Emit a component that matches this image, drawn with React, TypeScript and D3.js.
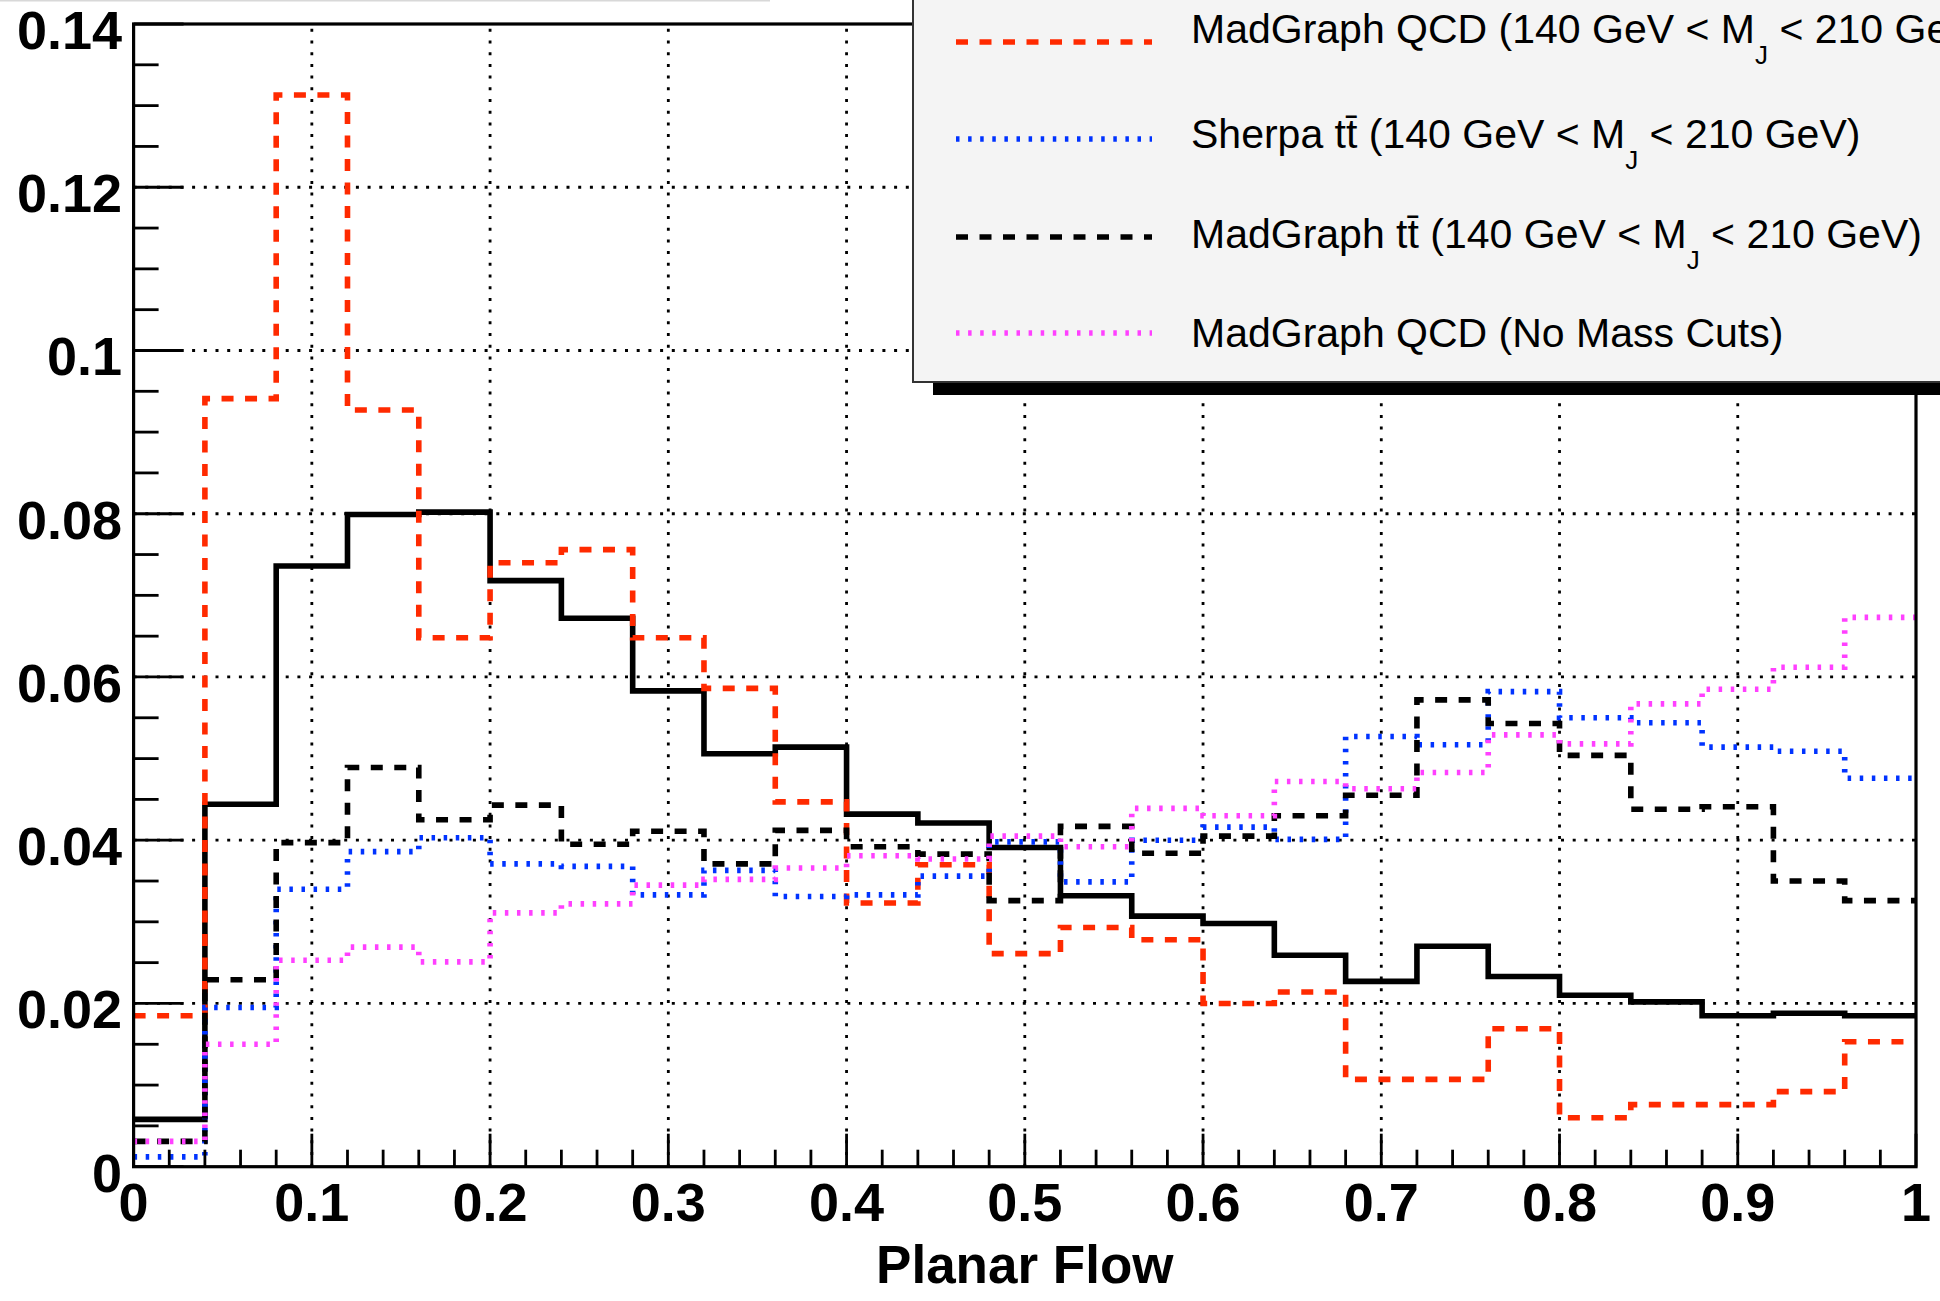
import React from "react";
import * as d3 from "d3";

// ---------- data ----------
const binLow = 0;
const binHigh = 1;
const nBins = 25;

// solid black histogram (legend entry cut off above the picture)
const solidBlackValues = [0.0058, 0.0444, 0.0736, 0.0799, 0.0802, 0.0718, 0.0672, 0.0583, 0.0506, 0.0514, 0.0432, 0.0421, 0.0391, 0.0332, 0.0307, 0.0298, 0.0259, 0.0227, 0.0270, 0.0233, 0.0210, 0.0202, 0.0185, 0.0188, 0.0185];
const madgraphQCDMassValues = [0.0185, 0.0941, 0.1313, 0.0927, 0.0648, 0.0740, 0.0756, 0.0648, 0.0586, 0.0447, 0.0323, 0.0370, 0.0261, 0.0293, 0.0278, 0.0200, 0.0214, 0.0107, 0.0107, 0.0169, 0.0060, 0.0076, 0.0076, 0.0092, 0.0153];
const sherpaTTValues = [0.0012, 0.0195, 0.0340, 0.0386, 0.0403, 0.0371, 0.0368, 0.0333, 0.0363, 0.0331, 0.0333, 0.0356, 0.0398, 0.0349, 0.0400, 0.0416, 0.0401, 0.0527, 0.0517, 0.0582, 0.0550, 0.0544, 0.0514, 0.0509, 0.0476];
const madgraphTTValues = [0.0031, 0.0229, 0.0397, 0.0489, 0.0425, 0.0443, 0.0395, 0.0411, 0.0371, 0.0412, 0.0392, 0.0383, 0.0326, 0.0417, 0.0384, 0.0405, 0.0430, 0.0455, 0.0572, 0.0543, 0.0504, 0.0438, 0.0441, 0.0350, 0.0326];
const madgraphQCDNoCutValues = [0.0031, 0.0150, 0.0253, 0.0269, 0.0251, 0.0311, 0.0322, 0.0345, 0.0352, 0.0366, 0.0381, 0.0377, 0.0405, 0.0392, 0.0439, 0.0430, 0.0472, 0.0463, 0.0483, 0.0529, 0.0518, 0.0567, 0.0585, 0.0612, 0.0673];

const xTickLabels = ["0", "0.1", "0.2", "0.3", "0.4", "0.5", "0.6", "0.7", "0.8", "0.9", "1"];
const yTickLabels = ["0", "0.02", "0.04", "0.06", "0.08", "0.1", "0.12", "0.14"];
const xTitle = "Planar Flow";

type Entry = { pre: string; bar?: boolean; mid?: string; sub?: string; post?: string; color: string; dash: string };
const legendEntries: Entry[] = [
  { pre: "MadGraph QCD (140 GeV < M", sub: "J", post: " < 210 GeV)", color: "#ff2a00", dash: "12 11.5" },
  { pre: "Sherpa t", bar: true, mid: " (140 GeV < M", sub: "J", post: " < 210 GeV)", color: "#0033ff", dash: "3.5 8.6" },
  { pre: "MadGraph t", bar: true, mid: " (140 GeV < M", sub: "J", post: " < 210 GeV)", color: "#000000", dash: "12 11.5" },
  { pre: "MadGraph QCD (No Mass Cuts)", color: "#ff40ff", dash: "3.5 8.6" },
];

// ---------- layout ----------
const W = 1940;
const H = 1301;
const left = 133.6;
const right = 1916;
const top = 24;
const bottom = 1166.7;
const FONT = "'Liberation Sans', Arial, Helvetica, sans-serif";

export default function App() {
  const x = d3.scaleLinear().domain([binLow, binHigh]).range([left, right]);
  const y = d3.scaleLinear().domain([0, 0.14]).range([bottom, top]);
  const binW = (binHigh - binLow) / nBins;

  const stepPath = (vals: number[]) => {
    const pts: [number, number][] = vals.map((v, i) => [binLow + i * binW, v]);
    pts.push([binHigh, vals[vals.length - 1]]);
    return d3
      .line<[number, number]>()
      .x((d) => x(d[0]))
      .y((d) => y(d[1]))
      .curve(d3.curveStepAfter)(pts) as string;
  };

  const series = [
    { vals: solidBlackValues, color: "#000000", dash: "none" },
    { vals: madgraphQCDMassValues, color: legendEntries[0].color, dash: legendEntries[0].dash },
    { vals: sherpaTTValues, color: legendEntries[1].color, dash: legendEntries[1].dash },
    { vals: madgraphTTValues, color: legendEntries[2].color, dash: legendEntries[2].dash },
    { vals: madgraphQCDNoCutValues, color: legendEntries[3].color, dash: legendEntries[3].dash },
  ];

  const xMajor = xTickLabels.map((t) => +t);
  const yMajor = yTickLabels.map((t) => +t);
  const xMinor = d3.range(0, 51).map((i) => i * 0.02).filter((v) => Math.abs(v * 10 - Math.round(v * 10)) > 1e-6 && v <= 1.0001);
  const yMinor = d3.range(0, 29).map((i) => i * 0.005).filter((v) => Math.abs(v * 50 - Math.round(v * 50)) > 1e-6 && v <= 0.1401);

  const gridDash = "3 8.7";

  // legend geometry
  const legLeft = 913;
  const legBottom = 382;
  const lineX0 = 956;
  const lineX1 = 1152;
  const textX = 1191;
  const lineYs = [42, 139, 237, 333];
  const textYs = [43, 148, 248, 347];

  return (
    <svg width={W} height={H} style={{ position: "absolute", left: 0, top: 0, background: "#fff" }} fontFamily={FONT}>
      <rect x={0} y={0} width={W} height={H} fill="#ffffff" />
      <line x1={0} x2={770} y1={0.5} y2={0.5} stroke="#d8d8d8" strokeWidth={2} />

      {/* grid */}
      {xMajor.slice(1, -1).map((v) => (
        <line key={"gx" + v} x1={x(v)} x2={x(v)} y1={bottom} y2={top} stroke="#000" strokeWidth={2.8} strokeDasharray={gridDash} />
      ))}
      {yMajor.slice(1, -1).map((v) => (
        <line key={"gy" + v} x1={left} x2={right} y1={y(v)} y2={y(v)} stroke="#000" strokeWidth={2.8} strokeDasharray={gridDash} />
      ))}

      {/* histograms */}
      {series.map((s, i) => (
        <path key={"s" + i} d={stepPath(s.vals)} fill="none" stroke={s.color} strokeWidth={5.6} strokeDasharray={s.dash} strokeLinecap="butt" strokeLinejoin="miter" />
      ))}

      {/* ticks */}
      {xMajor.map((v) => (
        <line key={"xt" + v} x1={x(v)} x2={x(v)} y1={bottom} y2={bottom - 33} stroke="#000" strokeWidth={2.8} />
      ))}
      {xMinor.map((v) => (
        <line key={"xm" + v} x1={x(v)} x2={x(v)} y1={bottom} y2={bottom - 17} stroke="#000" strokeWidth={2.8} />
      ))}
      {yMajor.map((v) => (
        <line key={"yt" + v} x1={left} x2={left + 50} y1={y(v)} y2={y(v)} stroke="#000" strokeWidth={2.8} />
      ))}
      {yMinor.map((v) => (
        <line key={"ym" + v} x1={left} x2={left + 25} y1={y(v)} y2={y(v)} stroke="#000" strokeWidth={2.8} />
      ))}

      {/* frame */}
      <rect x={left} y={top} width={right - left} height={bottom - top} fill="none" stroke="#000" strokeWidth={3.2} />

      {/* tick labels */}
      {xTickLabels.map((t) => (
        <text key={"xl" + t} x={x(+t)} y={1221} textAnchor="middle" fontSize={54} fontWeight="bold" fill="#000">
          {t}
        </text>
      ))}
      {yTickLabels.map((t) => (
        <text key={"yl" + t} x={122} y={y(+t) + 25} textAnchor="end" fontSize={54} fontWeight="bold" fill="#000">
          {t}
        </text>
      ))}
      <text x={x(0.5)} y={1283} textAnchor="middle" fontSize={53} fontWeight="bold" fill="#000">
        {xTitle}
      </text>

      {/* legend */}
      <rect x={legLeft + 20} y={-20} width={W} height={legBottom + 13 + 20} fill="#000" />
      <rect x={legLeft} y={-20} width={W} height={legBottom + 20} fill="#f4f4f4" stroke="#333" strokeWidth={2} />
      {legendEntries.map((e, i) => (
        <g key={"leg" + i}>
          <line x1={lineX0} x2={lineX1} y1={lineYs[i]} y2={lineYs[i]} stroke={e.color} strokeWidth={5.6} strokeDasharray={e.dash} />
          <text x={textX} y={textYs[i]} fontSize={41} fill="#000">
            <tspan>{e.pre}</tspan>
            {e.bar ? <tspan>{"t\u0304"}</tspan> : null}
            {e.mid ? <tspan>{e.mid}</tspan> : null}
            {e.sub ? (
              <tspan dy={21} fontSize={26}>
                {e.sub}
              </tspan>
            ) : null}
            {e.post ? <tspan dy={e.sub ? -21 : 0}>{e.post}</tspan> : null}
          </text>
        </g>
      ))}
    </svg>
  );
}
